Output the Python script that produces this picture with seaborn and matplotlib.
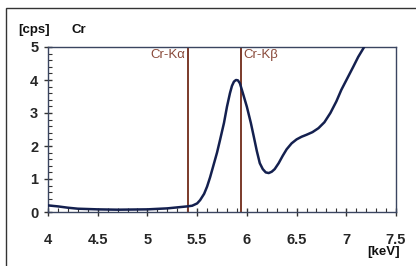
import numpy as np
import pandas as pd
import matplotlib
matplotlib.use("Agg")
import matplotlib.pyplot as plt
import matplotlib.ticker as mtick
import seaborn as sns

# ------------------ DATA ------------------

energy = [4.0, 4.1, 4.2, 4.3, 4.5, 4.7, 5.0, 5.2, 5.3, 5.4, 5.45, 5.5,
          5.53, 5.57, 5.6, 5.63, 5.66, 5.7, 5.73, 5.77, 5.8, 5.83, 5.85,
          5.87, 5.89, 5.91, 5.93, 5.96, 6.0, 6.04, 6.07, 6.1, 6.13, 6.16,
          6.19, 6.22, 6.25, 6.28, 6.32, 6.36, 6.4, 6.45, 6.5, 6.55, 6.6,
          6.66, 6.72, 6.78, 6.84, 6.9, 6.95, 7.01, 7.07, 7.12, 7.18]
counts = [0.2, 0.17, 0.13, 0.1, 0.08, 0.07, 0.08, 0.11, 0.14, 0.17, 0.19, 0.26,
          0.36, 0.55, 0.77, 1.05, 1.37, 1.8, 2.18, 2.7, 3.19, 3.6, 3.82,
          3.95, 4.0, 3.99, 3.9, 3.6, 3.19, 2.7, 2.28, 1.85, 1.48, 1.3,
          1.2, 1.18, 1.22, 1.3, 1.48, 1.7, 1.9, 2.08, 2.2, 2.28, 2.34,
          2.42, 2.54, 2.72, 3.0, 3.35, 3.7, 4.05, 4.4, 4.7, 5.0]

line_pos = [5.41, 5.94]
line_names = ["Cr-K\u03b1", "Cr-K\u03b2"]

df = pd.DataFrame({"energy": energy, "cps": counts})

# ------------------ PLOT ------------------

sns.set_style("white")
plt.rcParams['font.family'] = ['Liberation Sans', 'DejaVu Sans']
plt.rcParams['font.weight'] = 'bold'

fig = plt.figure(figsize=(4.16, 2.66), dpi=100)
ax = fig.add_axes([48 / 416, 1 - 212 / 266, 348 / 416, 165 / 266])

# outer frame (left and top edges only visible)
fig.add_artist(plt.Rectangle((6 / 416, -0.1), 1.2, 1 - 8 / 266 + 0.1,
                             transform=fig.transFigure, fill=False,
                             edgecolor="#333333", linewidth=1.0))

sns.lineplot(data=df, x="energy", y="cps", color="#14204f", linewidth=1.8,
             ax=ax, zorder=3)

brown = "#7b3a2a"
for xp in line_pos:
    ax.axvline(xp, color=brown, linewidth=1.4, zorder=2)
ax.text(line_pos[0] - 0.03, 4.93, line_names[0], color="#8a4a3a",
        ha="right", va="top", fontsize=9.5, fontweight="normal")
ax.text(line_pos[1] + 0.03, 4.93, line_names[1], color="#8a4a3a",
        ha="left", va="top", fontsize=9.5, fontweight="normal")

ax.set_xlim(4, 7.5)
ax.set_ylim(0, 5)
ax.xaxis.set_major_locator(mtick.MultipleLocator(0.5))
ax.xaxis.set_minor_locator(mtick.MultipleLocator(0.1))
ax.yaxis.set_major_locator(mtick.MultipleLocator(1))
ax.yaxis.set_minor_locator(mtick.MultipleLocator(0.2))
ax.xaxis.set_major_formatter(mtick.FuncFormatter(lambda v, p: f"{v:g}"))

ax.tick_params(axis="both", which="major", direction="inout", length=6,
               width=1, color="#333333", labelsize=10.5, pad=12)
ax.tick_params(axis="both", which="minor", direction="in", length=3,
               width=0.8, color="#333333")
ax.tick_params(axis="y", which="major", pad=4)
ax.tick_params(bottom=True, left=True, which="both")

for sp in ax.spines.values():
    sp.set_color("#3a4560")
    sp.set_linewidth(1.0)

ax.set_xlabel("")
ax.set_ylabel("")

fig.text(18 / 416, 1 - 30 / 266, "[cps]", fontsize=9.5, va="center",
         ha="left", color="#111111")
fig.text(72 / 416, 1 - 30 / 266, "Cr", fontsize=9.5, va="center",
         ha="left", color="#111111")
fig.text(384 / 416, 1 - 252 / 266, "[keV]", fontsize=9.5, va="center",
         ha="center", color="#111111")

plt.savefig("out.png", dpi=100)
